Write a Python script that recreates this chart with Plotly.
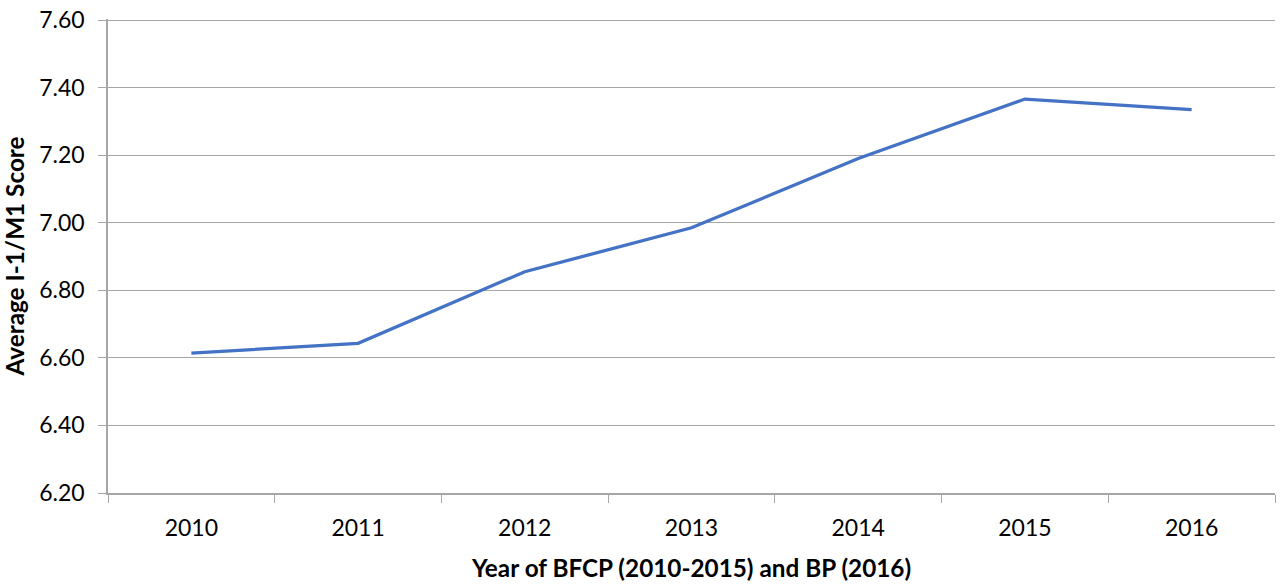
import plotly.graph_objects as go

years = ["2010", "2011", "2012", "2013", "2014", "2015", "2016"]
scores = [6.614, 6.643, 6.855, 6.985, 7.19, 7.366, 7.335]
y_ticks = [6.2, 6.4, 6.6, 6.8, 7.0, 7.2, 7.4, 7.6]
y_tick_labels = ["6.20", "6.40", "6.60", "6.80", "7.00", "7.20", "7.40", "7.60"]

fig = go.Figure()
fig.add_trace(go.Scatter(
    x=years, y=scores, mode="lines",
    line=dict(color="#4472C4", width=3.3),
))

axis_color = "#A6A6A6"
fig.update_layout(
    width=1280, height=586,
    margin=dict(l=108, r=5, t=19, b=93),
    paper_bgcolor="white", plot_bgcolor="white",
    showlegend=False,
    font=dict(family="Lato, Open Sans, sans-serif", size=23, color="#000000"),
    xaxis=dict(
        type="category", automargin=False,
        title=dict(text="<b>Year of BFCP (2010-2015) and BP (2016)</b>", font=dict(size=24.3), standoff=20),
        showline=True, linecolor=axis_color, linewidth=1.5,
        ticks="outside", tickson="boundaries", ticklen=8, tickcolor=axis_color,
        ticklabelstandoff=14,
        showgrid=False, range=[-0.5, 6.5],
    ),
    yaxis=dict(
        automargin=False,
        range=[6.2, 7.603],
        tickmode="array", tickvals=y_ticks, ticktext=y_tick_labels,
        ticklabeloverflow="allow",
        title=dict(text="<b>Average I-1/M1 Score</b>", font=dict(size=24.3), standoff=10),
        showline=True, linecolor=axis_color, linewidth=1.5,
        ticks="outside", ticklen=8, tickcolor=axis_color,
        ticklabelstandoff=9,
        showgrid=True, gridcolor=axis_color, gridwidth=1.2,
        zeroline=False,
    ),
)

fig.write_html("out.html", config={"displayModeBar": False},
               post_script="document.body.style.margin='0';")
